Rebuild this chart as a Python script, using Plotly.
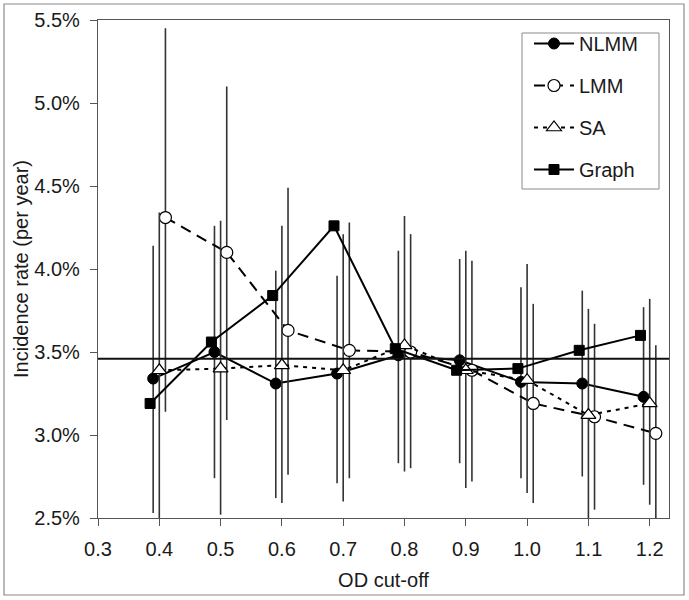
import plotly.graph_objects as go

# ---- data (incidence rate, % per year) ----
cutoffs = [0.4, 0.5, 0.6, 0.7, 0.8, 0.9, 1.0, 1.1, 1.2]

nlmm = [3.34, 3.50, 3.31, 3.37, 3.48, 3.45, 3.32, 3.31, 3.23]
nlmm_lo = [2.53, 2.74, 2.62, 2.71, 2.83, 2.83, 2.74, 2.75, 2.70]
nlmm_hi = [4.14, 4.26, 3.99, 3.96, 4.11, 4.06, 3.89, 3.87, 3.77]

lmm = [4.31, 4.10, 3.63, 3.51, 3.50, 3.39, 3.19, 3.11, 3.01]
lmm_lo = [3.14, 3.09, 2.76, 2.74, 2.80, 2.72, 2.59, 2.55, 2.47]
lmm_hi = [5.45, 5.10, 4.49, 4.28, 4.21, 4.05, 3.79, 3.67, 3.54]

sa = [3.39, 3.40, 3.42, 3.39, 3.54, 3.39, 3.33, 3.12, 3.19]
sa_lo = [2.47, 2.52, 2.59, 2.60, 2.78, 2.68, 2.65, 2.48, 2.58]
sa_hi = [4.34, 4.29, 4.26, 4.21, 4.32, 4.11, 4.03, 3.76, 3.82]

graph = [3.19, 3.56, 3.84, 4.26, 3.52, 3.39, 3.40, 3.51, 3.60]

reference_rate = 3.46

x_ticks = [0.3, 0.4, 0.5, 0.6, 0.7, 0.8, 0.9, 1.0, 1.1, 1.2]
x_tick_labels = ["0.3", "0.4", "0.5", "0.6", "0.7", "0.8", "0.9", "1.0", "1.1", "1.2"]

# horizontal offsets used to separate the series
off_graph, off_nlmm, off_sa, off_lmm = -0.015, -0.010, 0.0, 0.010

FONT = "Liberation Sans, Arial, sans-serif"
FS = 20
BAR_COLOR = "#333333"

L, R, T, B = 98, 20, 20, 82
W, H = 689, 600
PW, PH = W - L - R, H - T - B


def px_x(px):
    return (px - L) / PW


def px_y(py):
    return (H - B - py) / PH


def shift(xs, d):
    return [x + d for x in xs]


def err(vals, lo, hi):
    return dict(type="data", symmetric=False,
                array=[h - v for v, h in zip(vals, hi)],
                arrayminus=[v - l for v, l in zip(vals, lo)],
                width=0, thickness=1.6, color=BAR_COLOR)


fig = go.Figure()

fig.add_trace(go.Scatter(
    x=shift(cutoffs, off_nlmm), y=nlmm, name="NLMM", legendgroup="a",
    mode="lines+markers", error_y=err(nlmm, nlmm_lo, nlmm_hi),
    line=dict(color="black", width=2),
    marker=dict(symbol="circle", size=11, color="black",
                line=dict(color="black", width=1))))

fig.add_trace(go.Scatter(
    x=shift(cutoffs, off_lmm), y=lmm, name="LMM", legendgroup="b",
    mode="lines+markers", error_y=err(lmm, lmm_lo, lmm_hi),
    line=dict(color="black", width=2, dash="11px,7px"),
    marker=dict(symbol="circle", size=12, color="white",
                line=dict(color="black", width=1.2))))

fig.add_trace(go.Scatter(
    x=shift(cutoffs, off_sa), y=sa, name="SA", legendgroup="c",
    mode="lines+markers", error_y=err(sa, sa_lo, sa_hi),
    line=dict(color="black", width=2, dash="4px,5px"),
    marker=dict(symbol="triangle-up", size=13, color="white",
                line=dict(color="black", width=1.2))))

fig.add_trace(go.Scatter(
    x=shift(cutoffs, off_graph), y=graph, name="Graph", legendgroup="d",
    mode="lines+markers",
    line=dict(color="black", width=2),
    marker=dict(symbol="square", size=10, color="black",
                line=dict(color="black", width=1))))

# reference line
fig.add_shape(type="line", xref="paper", yref="y", x0=0, x1=1,
              y0=reference_rate, y1=reference_rate,
              line=dict(color="#111111", width=2))

# outer chart border
fig.add_shape(type="rect", xref="paper", yref="paper",
              x0=px_x(4), x1=px_x(684), y0=px_y(595), y1=px_y(4),
              line=dict(color="#8a8a8a", width=1.2), fillcolor="rgba(0,0,0,0)",
              layer="below")

# legend box
fig.add_shape(type="rect", xref="paper", yref="paper",
              x0=px_x(522), x1=px_x(659), y0=px_y(189), y1=px_y(33),
              line=dict(color="#8a8a8a", width=1), fillcolor="white",
              layer="above")

fig.update_layout(
    width=W, height=H,
    margin=dict(l=L, r=R, t=T, b=B, autoexpand=False),
    paper_bgcolor="white", plot_bgcolor="white",
    font=dict(family=FONT, size=FS, color="#1a1a1a"),
    showlegend=True,
    legend=dict(x=px_x(529), y=px_y(24),
                xanchor="left", yanchor="top",
                bgcolor="rgba(0,0,0,0)", borderwidth=0,
                font=dict(family=FONT, size=FS, color="#1a1a1a"),
                tracegroupgap=13, itemwidth=40),
)

fig.update_xaxes(
    range=[0.3, 0.3 + PW / 613], tickmode="array",
    tickvals=x_ticks, ticktext=x_tick_labels,
    showgrid=False, zeroline=False, automargin=False,
    showline=True, linecolor="#555555", linewidth=1.2, mirror=True,
    ticks="outside", ticklen=7, tickcolor="#555555", tickwidth=1,
    ticklabelstandoff=6,
    title=dict(text="OD cut-off", font=dict(family=FONT, size=FS), standoff=13),
)
fig.update_yaxes(
    range=[2.5, 5.5], dtick=0.5, tick0=2.5, tickformat=".1f", ticksuffix="%",
    showgrid=False, zeroline=False, automargin=False,
    showline=True, linecolor="#555555", linewidth=1.2, mirror=True,
    ticks="outside", ticklen=7, tickcolor="#555555", tickwidth=1,
    ticklabelstandoff=6,
    title=dict(text="Incidence rate (per year)", font=dict(family=FONT, size=FS), standoff=0),
)

fig.write_html("out.html",
               config={"displayModeBar": False},
               post_script="document.body.style.margin='0';document.body.style.overflow='hidden';")
